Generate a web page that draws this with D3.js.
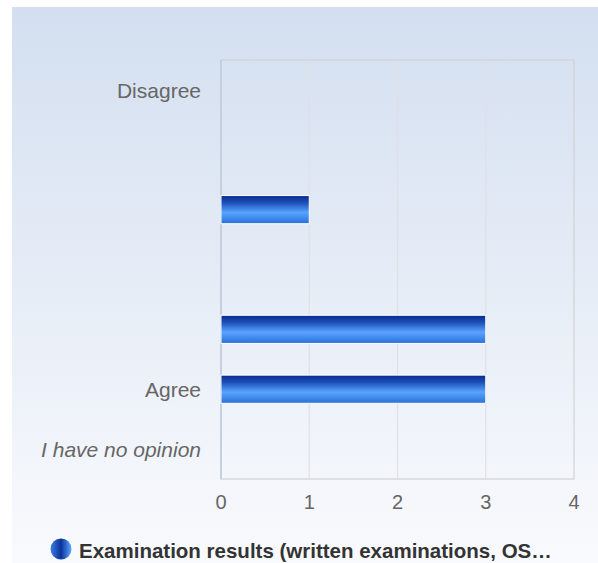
<!DOCTYPE html>
<html>
<head>
<meta charset="utf-8">
<script src="https://cdn.jsdelivr.net/npm/d3@7/dist/d3.min.js"></script>
<style>
  html, body { margin: 0; padding: 0; background: #ffffff; }
  svg { display: block; }
  text { font-family: "Liberation Sans", Arial, sans-serif; }
</style>
</head>
<body>
<svg id="chart" width="598" height="563"></svg>
<script>
// ---- data ----
const categories = ["Disagree", "", "", "", "", "Agree", "I have no opinion"];
const italicCategories = ["I have no opinion"];
const seriesName = "Examination results (written examinations, OS…";
const values = [0, 0, 1, 0, 3, 3, 0];
const xTicks = [0, 1, 2, 3, 4];

const W = 598, H = 563;
const plot = { left: 221, top: 60, right: 574, bottom: 479 };

const svg = d3.select("#chart");
const defs = svg.append("defs");

const bg = defs.append("linearGradient").attr("id", "bgGrad")
  .attr("x1", 0).attr("y1", 0).attr("x2", 0).attr("y2", 1);
bg.append("stop").attr("offset", "0%").attr("stop-color", "#d3dff0");
bg.append("stop").attr("offset", "100%").attr("stop-color", "#f9fafd");

const barG = defs.append("linearGradient").attr("id", "barGrad")
  .attr("x1", 0).attr("y1", 0).attr("x2", 0).attr("y2", 1);
barG.append("stop").attr("offset", "0%").attr("stop-color", "#072a8a");
barG.append("stop").attr("offset", "25%").attr("stop-color", "#1c4fb8");
barG.append("stop").attr("offset", "60%").attr("stop-color", "#58a4ff");
barG.append("stop").attr("offset", "100%").attr("stop-color", "#2a70d8");

const legG = defs.append("linearGradient").attr("id", "legGrad")
  .attr("x1", 0).attr("y1", 0).attr("x2", 1).attr("y2", 0);
legG.append("stop").attr("offset", "0%").attr("stop-color", "#3a7ee8");
legG.append("stop").attr("offset", "50%").attr("stop-color", "#0c3298");
legG.append("stop").attr("offset", "100%").attr("stop-color", "#5aa8ff");

// background
svg.append("rect").attr("x", 12).attr("y", 7).attr("width", W - 12).attr("height", H - 7)
  .attr("fill", "url(#bgGrad)");

// scales
const x = d3.scaleLinear().domain([xTicks[0], xTicks[xTicks.length - 1]])
  .range([plot.left, plot.right]);
const y = d3.scaleBand().domain(d3.range(categories.length))
  .range([plot.top, plot.bottom]).paddingInner(0.53).paddingOuter(0.265);

// gridlines
svg.append("g").selectAll("line").data(xTicks.slice(1, -1)).join("line")
  .attr("x1", d => x(d)).attr("x2", d => x(d))
  .attr("y1", plot.top).attr("y2", plot.bottom)
  .attr("stroke", "#dfe1e6").attr("stroke-width", 1.2);

// plot border
svg.append("rect").attr("x", plot.left).attr("y", plot.top)
  .attr("width", plot.right - plot.left).attr("height", plot.bottom - plot.top)
  .attr("fill", "none").attr("stroke", "#d0d2d6").attr("stroke-width", 1.2);
svg.append("line").attr("x1", plot.left).attr("x2", plot.left)
  .attr("y1", plot.top).attr("y2", plot.bottom)
  .attr("stroke", "#c6cfdf").attr("stroke-width", 2);

// bars
svg.append("g").selectAll("rect").data(values.map((v, i) => ({ v, i })).filter(d => d.v > 0))
  .join("rect")
  .attr("x", x(0))
  .attr("y", d => y(d.i))
  .attr("width", d => x(d.v) - x(0))
  .attr("height", y.bandwidth())
  .attr("fill", "url(#barGrad)")
  .attr("stroke", "#ffffff").attr("stroke-width", 1);

// y labels
svg.append("g").selectAll("text").data(categories.map((c, i) => ({ c, i })).filter(d => d.c))
  .join("text")
  .attr("x", plot.left - 20)
  .attr("y", d => y(d.i) + y.bandwidth() / 2)
  .attr("dy", "0.38em")
  .attr("text-anchor", "end")
  .attr("font-size", 21)
  .attr("font-style", d => italicCategories.includes(d.c) ? "italic" : "normal")
  .attr("fill", "#666666")
  .text(d => d.c);

// x tick labels
svg.append("g").selectAll("text").data(xTicks).join("text")
  .attr("x", d => x(d))
  .attr("y", plot.bottom + 23)
  .attr("dy", "0.35em")
  .attr("text-anchor", "middle")
  .attr("font-size", 20)
  .attr("fill", "#666666")
  .text(d => d);

// legend
const leg = svg.append("g");
leg.append("circle").attr("cx", 61).attr("cy", 549).attr("r", 10.5)
  .attr("fill", "url(#legGrad)");
leg.append("text").attr("x", 79).attr("y", 551).attr("dy", "0.35em")
  .attr("font-size", 20.5).attr("font-weight", "bold").attr("fill", "#333333")
  .text(seriesName);
</script>
</body>
</html>
